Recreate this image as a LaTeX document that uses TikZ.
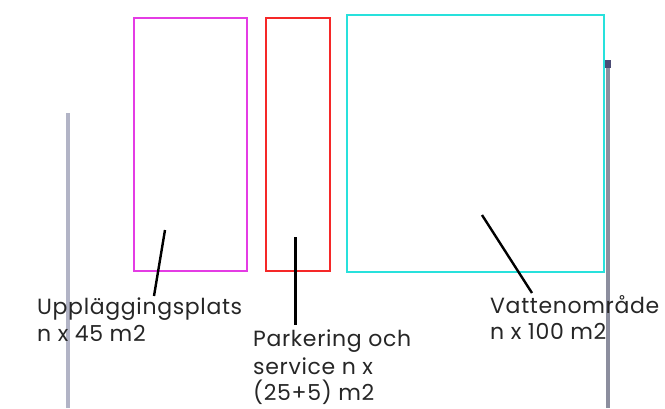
\documentclass[tikz,border=0pt]{standalone}
\usepackage{fontspec}
\setmainfont{Poppins}[LetterSpace=3]
\begin{document}
\begin{tikzpicture}[x=1pt,y=-1pt,
  area/.style={draw, line width=2pt},
  callout/.style={draw=black, line width=2.4pt},
  lbl/.style={anchor=base west, inner sep=0pt, font=\fontsize{22}{26}\selectfont, text=black!85},
  pole/.style={line width=3.2pt, line cap=butt}]
\useasboundingbox (0,0) rectangle (665,408);
\definecolor{mag}{RGB}{228,60,228}
\definecolor{rd}{RGB}{245,40,40}
\definecolor{cy}{RGB}{40,225,220}
\definecolor{poleL}{RGB}{178,180,198}
\definecolor{poleR}{RGB}{140,142,158}
% poles
\coordinate (pl1) at (68,113);
\coordinate (pl2) at (68,408);
\draw[pole, poleL] (pl1) -- (pl2);
\coordinate (pr1) at (608,64);
\coordinate (pr2) at (608,408);
\draw[pole, poleR] (pr1) -- (pr2);
\fill[black!60!blue!40!gray] (605,60) rectangle (611,68);
% areas
\node[area, mag, minimum width=113pt, minimum height=253pt, anchor=north west] (upp) at (133,17) {};
\node[area, rd, minimum width=64pt, minimum height=253pt, anchor=north west] (park) at (265,17) {};
\node[area, cy, minimum width=257pt, minimum height=257pt, anchor=north west] (vat) at (346,14) {};
% labels
\node[lbl] (uppA) at (37,314) {Uppläggingsplats};
\node[lbl] (uppB) at (37,341.5) {n x 45 m2};
\node[lbl] (parkA) at (253,346) {Parkering och};
\node[lbl] (parkB) at (253,374) {service n x};
\node[lbl] (parkC) at (253,400.5) {(25+5) m2};
\node[lbl] (vatA) at (490,313) {Vattenområde};
\node[lbl] (vatB) at (490,339.5) {n x 100 m2};
% callouts
\coordinate (c1s) at (165,230);
\coordinate (c1e) at (154,296);
\draw[callout] (c1s) -- (c1e);
\coordinate (c2s) at (295.5,237);
\coordinate (c2e) at (295.5,325);
\draw[callout] (c2s) -- (c2e);
\coordinate (c3s) at (482,215);
\coordinate (c3e) at (532,293);
\draw[callout] (c3s) -- (c3e);
\end{tikzpicture}
\end{document}
